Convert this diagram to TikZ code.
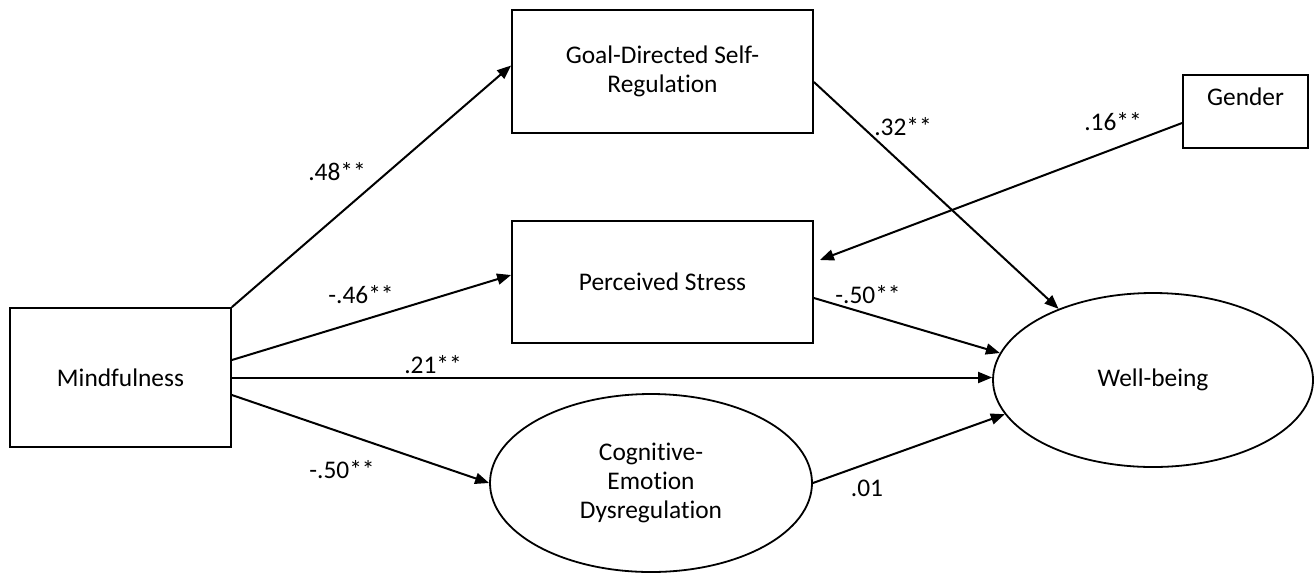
\documentclass[tikz,border=0pt]{standalone}
\usepackage{fontspec}
\setmainfont[Ligatures={NoCommon,NoContextual}]{Carlito}
\usetikzlibrary{arrows.meta, positioning, shapes.geometric}
\tikzset{
  vbox/.style={draw, line width=0.9pt, rectangle, inner sep=2pt, align=center},
  vell/.style={draw, line width=0.9pt, ellipse, inner sep=0pt, align=center},
  arr/.style={-{Triangle[length=7pt,width=5.5pt]}, line width=1pt},
  coef/.style={inner sep=1pt},
}

\begin{document}
\begin{tikzpicture}[x=0.5pt, y=-0.5pt,
    every node/.style={font=\fontsize{12.7}{14.5}\selectfont}]
  \useasboundingbox (0,0) rectangle (1315,579);

  % variables
  \node[vbox, minimum width=110.5pt, minimum height=69.5pt] (mind) at (120.5,377.5) {Mindfulness};
  \node[vbox, minimum width=150.5pt, minimum height=61.5pt] (goal) at (662.5,71.5)
    {Goal-Directed Self-\\Regulation};
  \node[vbox, minimum width=150.5pt, minimum height=61pt] (ps) at (662.5,282) {Perceived Stress};
  \node[vbox, minimum width=62.5pt, minimum height=36.5pt] (gender) at (1245.5,111.5) {Gender\\ };
  \node[vell, minimum width=160pt, minimum height=87pt] (wb) at (1153,380) {Well-being};
  \node[vell, minimum width=161pt, minimum height=89pt] (ced) at (651,483)
    {Cognitive-\\Emotion\\Dysregulation};

  % paths
  \draw[arr] (mind.north east) -- ([yshift=3pt]goal.west);
  \draw[arr] ([yshift=8.75pt]mind.east) -- ([yshift=3.5pt]ps.west);
  \draw[arr] (mind.east) -- (mind.east -| wb.west);
  \draw[arr] ([yshift=-8.75pt]mind.east) -- (ced.west);
  \draw[arr] ([yshift=-5.25pt]goal.east) -- (wb.143);
  \draw[arr] ([yshift=-8pt]ps.east) -- (wb.170);
  \draw[arr] (ced.east) -- (wb.193);
  \draw[arr] ([yshift=-5.75pt]gender.west) -- ([xshift=3pt,yshift=11pt]ps.east);

  % coefficients
  \node[coef] (c48) at (337,172) {.48**};
  \node[coef] (c46) at (361,295) {-.46**};
  \node[coef] (c21) at (433,365) {.21**};
  \node[coef] (c50a) at (342,470) {-.50**};
  \node[coef] (c32) at (903,127) {.32**};
  \node[coef] (c16) at (1113,122) {.16**};
  \node[coef] (c50b) at (868,295) {-.50**};
  \node[coef] (c01) at (867,488) {.01};
\end{tikzpicture}
\end{document}
